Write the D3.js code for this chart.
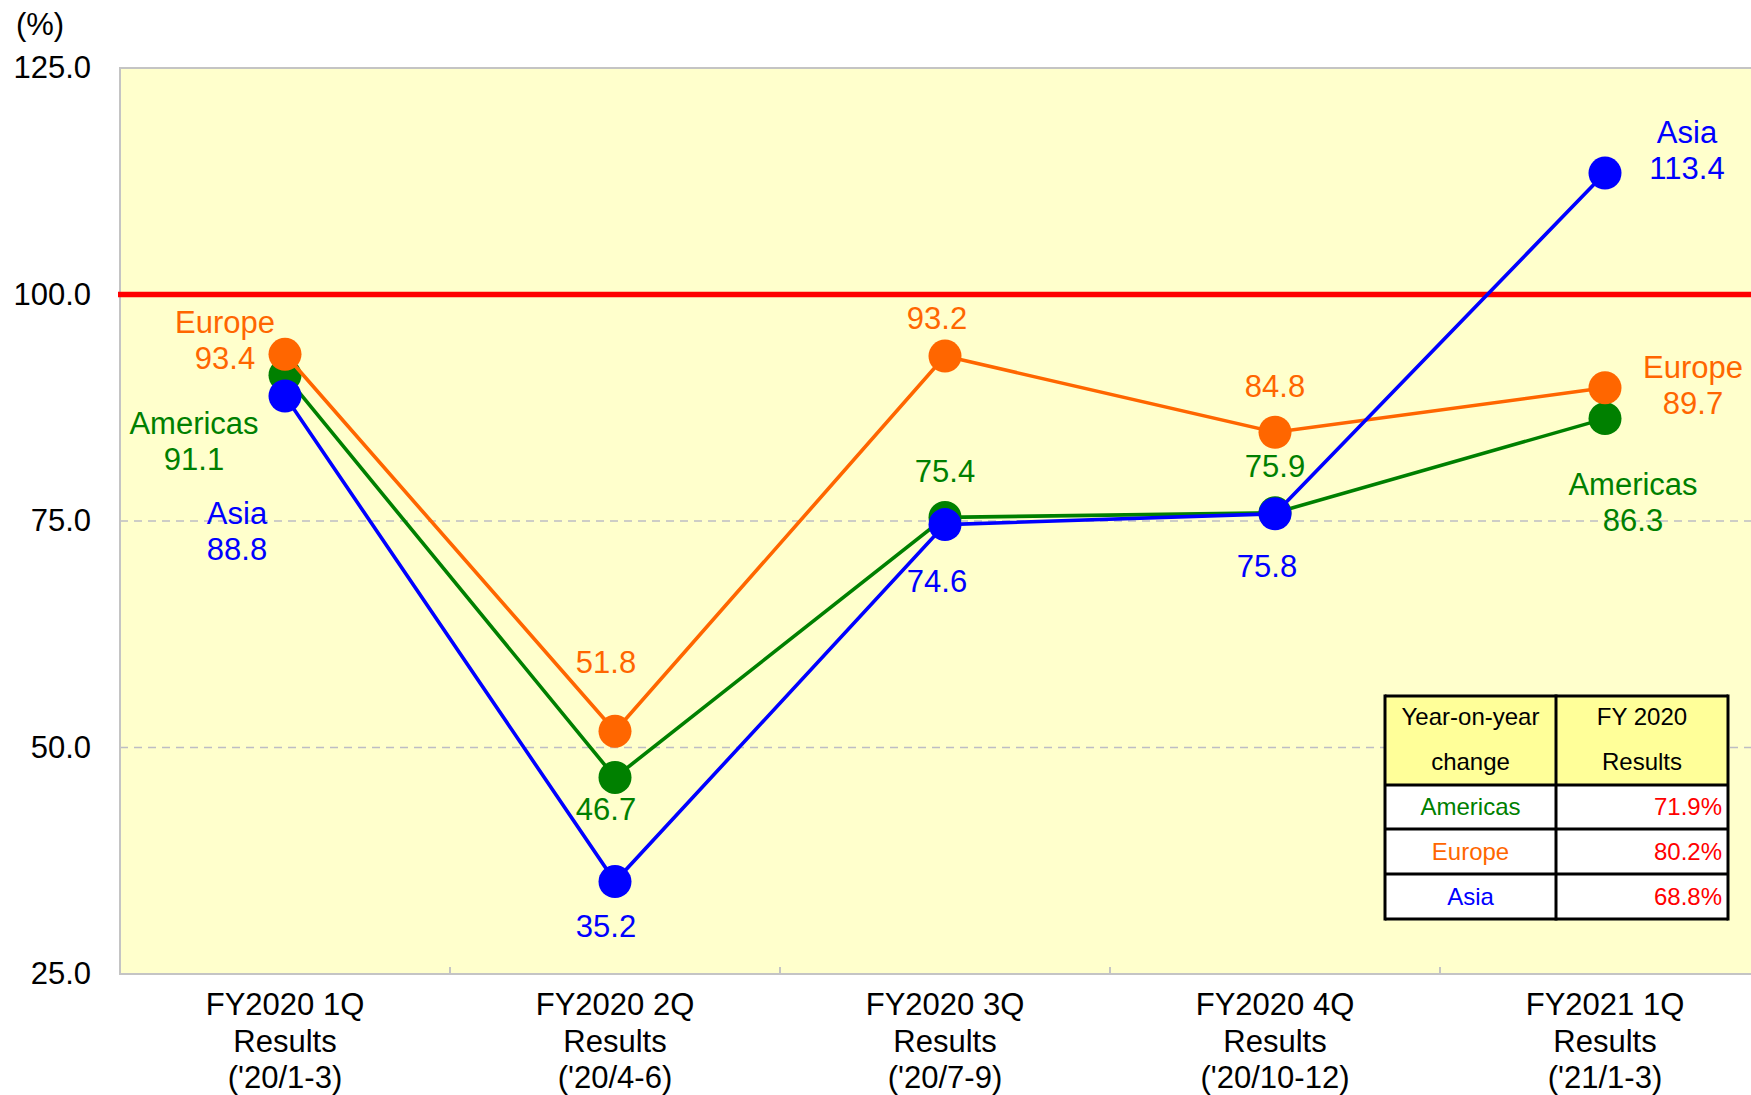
<!DOCTYPE html>
<html>
<head>
<meta charset="utf-8">
<script src="https://cdn.jsdelivr.net/npm/d3@7"></script>
<style>
  html, body { margin: 0; padding: 0; background: #ffffff; }
  svg { display: block; }
  text { font-family: "Liberation Sans", Arial, Helvetica, sans-serif; }
</style>
</head>
<body>
<svg id="chart" width="1751" height="1095"></svg>
<script>
// ---------- DATA ----------
const categories = ["FY2020 1Q", "FY2020 2Q", "FY2020 3Q", "FY2020 4Q", "FY2021 1Q"];
const categoryLines = [
  ["FY2020 1Q", "Results", "('20/1-3)"],
  ["FY2020 2Q", "Results", "('20/4-6)"],
  ["FY2020 3Q", "Results", "('20/7-9)"],
  ["FY2020 4Q", "Results", "('20/10-12)"],
  ["FY2021 1Q", "Results", "('21/1-3)"]
];
const seriesNames = ["Americas", "Europe", "Asia"];
const americas = [91.1, 46.7, 75.4, 75.9, 86.3];
const europe   = [93.4, 51.8, 93.2, 84.8, 89.7];
const asia     = [88.8, 35.2, 74.6, 75.8, 113.4];
const yTicks = [25, 50, 75, 100, 125];
const referenceValue = 100;
const tableHeader = [["Year-on-year", "change"], ["FY 2020", "Results"]];
const tableRegions = ["Americas", "Europe", "Asia"];
const tableValues = ["71.9%", "80.2%", "68.8%"];

// ---------- STYLE / LAYOUT ----------
const colors = { Americas: "#008000", Europe: "#ff6600", Asia: "#0000ff" };
const plot = { left: 120, top: 68, right: 1770, bottom: 974 };
const FONT = 31;

// label offsets (pixels relative to marker): [dx, dy of first baseline, showName]
const labelLayout = {
  Americas: [[-91, 59, true], [-9, 43, false], [0, -35, false], [0, -36, false], [28, 76, true]],
  Europe:   [[-60, -21, true], [-9, -58, false], [-8, -27, false], [0, -35, false], [88, -10, true]],
  Asia:     [[-48, 128, true], [-9, 55, false], [-8, 67, false], [-8, 63, false], [82, -30, true]]
};

const svg = d3.select("#chart");

const x = d3.scaleBand().domain(categories).range([plot.left, plot.right]).padding(0);
const y = d3.scaleLinear().domain([25, 125]).range([plot.bottom, plot.top]);
const cx = c => x(c) + x.bandwidth() / 2;

// plot background
svg.append("rect")
  .attr("x", plot.left).attr("y", plot.top)
  .attr("width", plot.right - plot.left).attr("height", plot.bottom - plot.top)
  .attr("fill", "#ffffcc");

// dashed grid lines
svg.append("g").selectAll("line")
  .data(yTicks.filter(t => t > 25 && t < 125 && t !== referenceValue))
  .join("line")
  .attr("x1", plot.left).attr("x2", plot.right)
  .attr("y1", d => y(d)).attr("y2", d => y(d))
  .attr("stroke", "#bdbdc4").attr("stroke-width", 1.5)
  .attr("stroke-dasharray", "8,6");

// frame (left, top, bottom)
svg.append("path")
  .attr("d", `M${plot.right},${plot.top}H${plot.left}V${plot.bottom}H${plot.right}`)
  .attr("fill", "none").attr("stroke", "#c4c4c4").attr("stroke-width", 2);

// x category separator ticks
svg.append("g").selectAll("line")
  .data(categories.slice(1))
  .join("line")
  .attr("x1", d => x(d)).attr("x2", d => x(d))
  .attr("y1", plot.bottom).attr("y2", plot.bottom - 7)
  .attr("stroke", "#c4c4c4").attr("stroke-width", 2);

// y axis
const yAxis = d3.axisLeft(y).tickValues(yTicks).tickFormat(d3.format(".1f")).tickSize(0).tickPadding(29);
const gy = svg.append("g").attr("transform", `translate(${plot.left},0)`).call(yAxis);
gy.select(".domain").remove();
gy.selectAll("text").attr("font-size", FONT).attr("fill", "#000")
  .attr("font-family", "'Liberation Sans', Arial, sans-serif");

// x axis labels
const xAxis = d3.axisBottom(x).tickSize(0).tickFormat("");
const gx = svg.append("g").attr("transform", `translate(0,${plot.bottom})`).call(xAxis);
gx.select(".domain").remove();
gx.selectAll(".tick").each(function(d, i) {
  const t = d3.select(this).append("text")
    .attr("text-anchor", "middle").attr("fill", "#000")
    .attr("font-size", FONT).attr("font-family", "'Liberation Sans', Arial, sans-serif");
  categoryLines[i].forEach((ln, j) => {
    t.append("tspan").attr("x", 0).attr("y", 41 + j * 36.5).text(ln);
  });
});

// unit label
svg.append("text").attr("x", 40).attr("y", 35).attr("text-anchor", "middle")
  .attr("font-size", FONT).attr("fill", "#000").text("(%)");

// red 100 line
svg.append("line")
  .attr("x1", plot.left - 2).attr("x2", 1751)
  .attr("y1", y(referenceValue)).attr("y2", y(referenceValue))
  .attr("stroke", "#ff0000").attr("stroke-width", 5.5);

// series
const seriesData = { Americas: americas, Europe: europe, Asia: asia };
const line = d3.line().x((d, i) => cx(categories[i])).y(d => y(d));

seriesNames.forEach(name => {
  const vals = seriesData[name];
  const g = svg.append("g");
  g.append("path").datum(vals).attr("d", line)
    .attr("fill", "none").attr("stroke", colors[name]).attr("stroke-width", 3.6);
  g.selectAll("circle").data(vals).join("circle")
    .attr("cx", (d, i) => cx(categories[i])).attr("cy", d => y(d))
    .attr("r", 16.5).attr("fill", colors[name]);
});

// data labels
seriesNames.forEach(name => {
  const vals = seriesData[name];
  vals.forEach((v, i) => {
    const [dx, dy, showName] = labelLayout[name][i];
    const px = cx(categories[i]) + dx;
    const py = y(v) + dy;
    const t = svg.append("text").attr("text-anchor", "middle")
      .attr("font-size", FONT).attr("fill", colors[name]);
    if (showName) {
      t.append("tspan").attr("x", px).attr("y", py).text(name);
      t.append("tspan").attr("x", px).attr("y", py + 36).text(d3.format(".1f")(v));
    } else {
      t.append("tspan").attr("x", px).attr("y", py).text(d3.format(".1f")(v));
    }
  });
});

// table
const tbl = { x0: 1385, x1: 1556, x2: 1728, rows: [696, 785, 829, 874, 919] };
const tg = svg.append("g");
tg.append("rect").attr("x", tbl.x0).attr("y", tbl.rows[0])
  .attr("width", tbl.x2 - tbl.x0).attr("height", tbl.rows[1] - tbl.rows[0]).attr("fill", "#ffff99");
tg.append("rect").attr("x", tbl.x0).attr("y", tbl.rows[1])
  .attr("width", tbl.x2 - tbl.x0).attr("height", tbl.rows[4] - tbl.rows[1]).attr("fill", "#ffffff");
tbl.rows.forEach(ry => {
  tg.append("line").attr("x1", tbl.x0).attr("x2", tbl.x2).attr("y1", ry).attr("y2", ry)
    .attr("stroke", "#000").attr("stroke-width", 3);
});
[tbl.x0, tbl.x1, tbl.x2].forEach(rx => {
  tg.append("line").attr("x1", rx).attr("x2", rx).attr("y1", tbl.rows[0] - 1.5).attr("y2", tbl.rows[4] + 1.5)
    .attr("stroke", "#000").attr("stroke-width", 3);
});
const TF = 24;
const c1 = (tbl.x0 + tbl.x1) / 2, c2 = (tbl.x1 + tbl.x2) / 2;
tableHeader[0].forEach((s, j) => {
  tg.append("text").attr("x", c1).attr("y", 725 + j * 45).attr("text-anchor", "middle")
    .attr("font-size", TF).attr("fill", "#000").text(s);
});
tableHeader[1].forEach((s, j) => {
  tg.append("text").attr("x", c2).attr("y", 725 + j * 45).attr("text-anchor", "middle")
    .attr("font-size", TF).attr("fill", "#000").text(s);
});
tableRegions.forEach((r, i) => {
  const by = tbl.rows[i + 2] - 14;
  tg.append("text").attr("x", c1).attr("y", by).attr("text-anchor", "middle")
    .attr("font-size", TF).attr("fill", colors[r]).text(r);
  tg.append("text").attr("x", tbl.x2 - 6).attr("y", by).attr("text-anchor", "end")
    .attr("font-size", TF).attr("fill", "#ff0000").text(tableValues[i]);
});
</script>
</body>
</html>
